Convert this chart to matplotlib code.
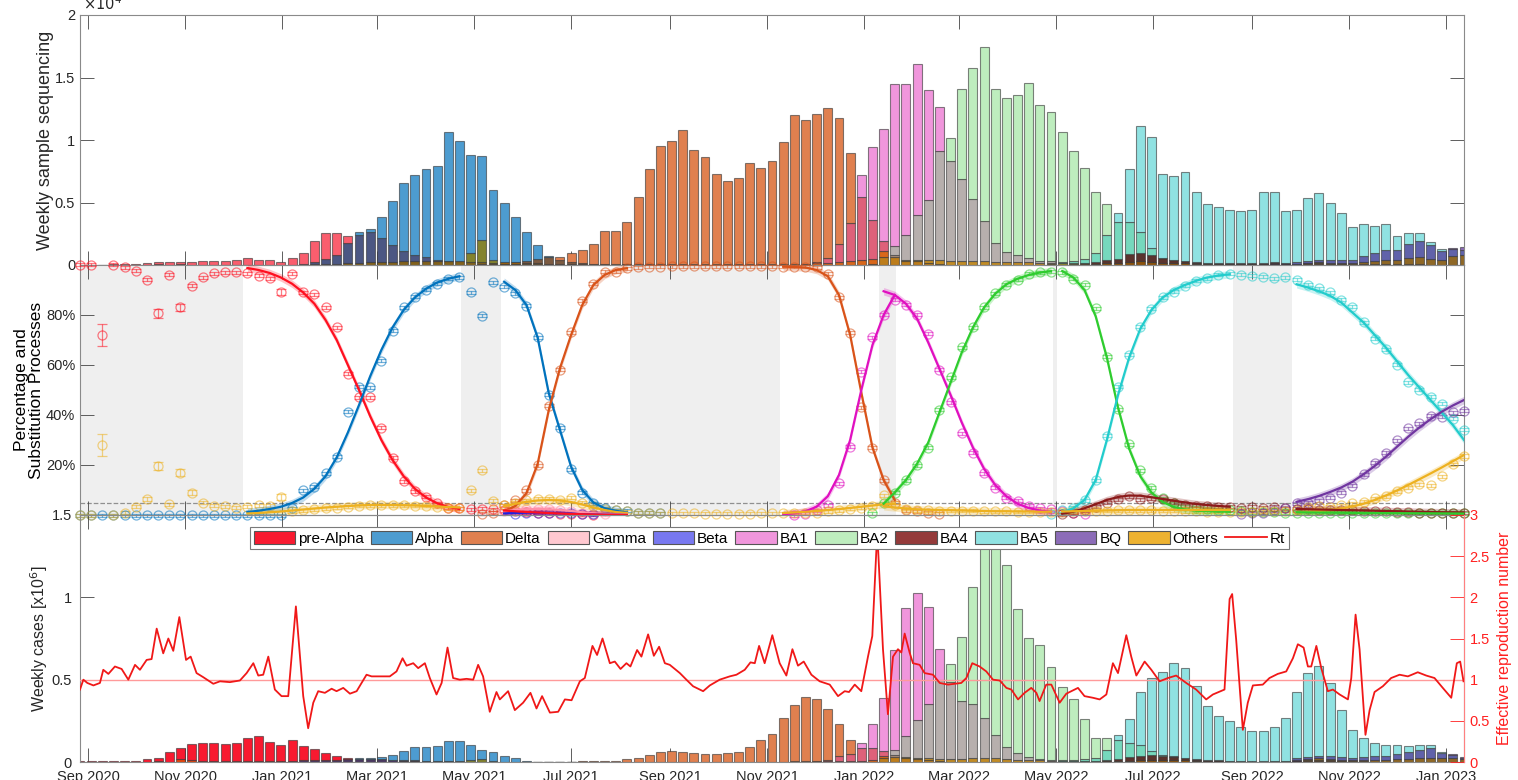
import numpy as np
import pandas as pd
import matplotlib
matplotlib.use("Agg")
import matplotlib.pyplot as plt
import matplotlib.dates as mdates
from matplotlib.colors import to_rgb
from matplotlib.patches import Patch
from matplotlib.lines import Line2D
from datetime import datetime

plt.rcParams["font.family"] = ["Liberation Sans", "DejaVu Sans"]

# ---------------------------------------------------------------- data
weeks = pd.date_range("2020-08-27", periods=125, freq="7D")

# weekly sequenced samples (x1e4) and weekly cases (x1e6)
seq_total = [0.003, 0.003, 0.004, 0.006, 0.008, 0.012, 0.015, 0.026, 0.023, 0.033,
             0.03, 0.03, 0.031, 0.036, 0.041, 0.061, 0.045, 0.042, 0.03, 0.055,
             0.104, 0.215, 0.305, 0.337, 0.417, 0.507, 0.569, 0.627, 0.7, 0.795,
             0.828, 0.853, 0.86, 1.124, 1.044, 0.989, 1.098, 0.642, 0.542, 0.436,
             0.312, 0.225, 0.15, 0.105, 0.127, 0.14, 0.179, 0.283, 0.283, 0.352,
             0.551, 0.778, 0.959, 0.994, 1.088, 0.926, 0.865, 0.733, 0.674, 0.701,
             0.817, 0.778, 0.841, 0.994, 1.209, 1.168, 1.219, 1.306, 1.348, 1.229,
             1.257, 1.33, 1.356, 1.68, 1.724, 2.006, 1.934, 2.174, 1.853, 2.101,
             2.105, 2.101, 1.584, 1.449, 1.447, 1.507, 1.32, 1.255, 1.094, 0.969,
             0.84, 0.703, 0.766, 0.805, 1.203, 1.481, 1.246, 0.837, 0.801, 0.816,
             0.623, 0.512, 0.486, 0.456, 0.453, 0.46, 0.616, 0.62, 0.458, 0.468,
             0.586, 0.632, 0.561, 0.48, 0.369, 0.426, 0.443, 0.495, 0.392, 0.489,
             0.518, 0.395, 0.282, 0.339, 0.353]
case_total = [0.005, 0.004, 0.005, 0.006, 0.006, 0.008, 0.019, 0.032, 0.066, 0.1,
              0.117, 0.119, 0.117, 0.114, 0.116, 0.149, 0.167, 0.13, 0.113, 0.139,
              0.109, 0.087, 0.069, 0.051, 0.039, 0.043, 0.043, 0.045, 0.058, 0.083,
              0.102, 0.099, 0.107, 0.136, 0.137, 0.116, 0.092, 0.063, 0.042, 0.025,
              0.01, 0.004, 0.004, 0.004, 0.004, 0.005, 0.006, 0.008, 0.008, 0.016,
              0.026, 0.043, 0.059, 0.07, 0.063, 0.057, 0.049, 0.049, 0.053, 0.059,
              0.094, 0.135, 0.171, 0.267, 0.348, 0.397, 0.385, 0.332, 0.266, 0.186,
              0.197, 0.325, 0.484, 0.79, 1.111, 1.28, 1.302, 1.179, 1.082, 1.13,
              1.413, 1.6, 1.5, 1.3, 0.986, 0.779, 0.732, 0.595, 0.467, 0.406,
              0.284, 0.179, 0.234, 0.316, 0.405, 0.567, 0.621, 0.626, 0.675, 0.621,
              0.493, 0.359, 0.291, 0.258, 0.224, 0.197, 0.199, 0.227, 0.279, 0.454,
              0.585, 0.643, 0.542, 0.367, 0.233, 0.192, 0.161, 0.155, 0.172, 0.183,
              0.206, 0.214, 0.142, 0.115, 0.077]

variants = ["pre-Alpha", "Alpha", "Delta", "Gamma", "Beta", "BA1", "BA2", "BA4", "BA5", "BQ", "Others"]

# weekly share of each variant (%), starting at week index share_start[v]
share_start = {"pre-Alpha": 0, "Alpha": 0, "Delta": 36, "Gamma": 38, "Beta": 39, "BA1": 64,
               "BA2": 71, "BA4": 88, "BA5": 87, "BQ": 104, "Others": 0}
share_pre_alpha = [100, 100, 72, 100, 99, 97.6, 94, 80.7, 96, 83, 91.7, 95, 96.7, 97, 97, 96.7,
                   95.6, 94.7, 89.3, 96.4, 89, 88.3, 83, 75, 56.4, 47, 47, 35, 23, 13.6, 9.6, 7.3,
                   4.7, 3, 2.7, 2.3, 2.5, 2.4, 2, 1.5, 1.2, 1, 0.8, 0.6, 0.5, 0.3, 0.2]
share_alpha = [0, 0, 0, 0, 0, 0, 0, 0, 0, 0, 0, 0, 0, 0, 0, 0, 0, 0, 0,
               2.7, 10, 11.3, 16.7, 23.3, 41.3, 51.3, 51, 61.7, 73.6, 83, 87.3, 90, 92.4, 94.4,
               95, 89, 79.7, 93, 91.3, 88.7, 83.7, 71, 48, 35, 18.4, 9, 4.7, 2.7, 2, 1.7, 1, 1, 0.8]
share_delta = [0.5, 1, 4, 6, 10, 20, 43.7, 58, 73, 85.7, 92.4, 97.3, 97.3, 98.7,
               99, 99.2, 99.3, 99.4, 99.5, 99.4, 99.5, 99.5, 99.4, 99.5, 99.5, 99.4, 99.4, 99.3,
               99.3, 99.2, 99,
               96.4, 87, 72.8, 43, 27, 14, 5, 2, 1.5, 1, 0.5]
share_gamma = [1.5, 2, 2.5, 2.5, 2.5, 2, 1.5, 1, 0.5, 0.3]
share_beta = [0.5, 0.8, 1, 1, 1, 0.8, 0.5, 0.3]
share_ba1 = [0, 0.5, 2, 4, 12.7, 27.3, 57.3, 71, 80, 86, 84, 80, 72.4, 58, 45, 32.7, 25, 16.7,
             11, 7, 5.7, 3.7, 2.7, 2.3, 1.5, 1, 0.5]
share_ba2 = [0.8, 4.7, 9, 14, 20, 27, 42, 55, 67, 75, 83, 88.7, 92, 94, 96.4, 97, 97.3, 97,
             94.4, 92, 82.7, 63.3, 42.3, 28.3, 18, 11, 6.7, 4.7, 3.5, 3, 2.5, 2, 2, 1.5,
             1.2, 1.2, 1.1, 1, 1, 1, 1, 1, 1, 0.9, 0.9, 0.8, 0.8, 0.8, 0.8, 0.7, 0.7, 0.7, 0.7, 0.7]
share_ba4 = [0.3, 1, 2, 3.3, 5, 6.4, 7.6, 6.4, 6.7, 6.3, 5, 4, 3.7, 3.5, 3.3, 3.3, 3, 3.3, 3,
             3.3, 2.7, 2.5, 2.3, 2, 2, 2, 2, 1.8, 1.5, 1.5, 1.3, 1.2, 1, 1, 1, 1, 1]
share_ba5 = [0.5, 2, 3, 6, 14, 31.7, 51.3, 64, 75.3, 82.4, 87, 89.3, 91.6, 93.7, 94.7, 96, 96.4,
             96, 95.6, 95.3, 94.7, 95, 94, 92, 90.7, 89, 86, 83.3, 77, 70.4, 66.3, 60, 53, 50,
             47.3, 44.4, 38.4, 34]
share_bq = [0.5, 0.8, 1, 2, 3, 4.7, 5, 6, 7, 9, 11.7, 16.3, 21, 25, 30, 34.7, 36.7, 39.7, 39.3,
            41, 41.7]
share_others = [0, 0, 28, 0, 1, 3.3, 6.3, 19.7, 4.3, 17, 9, 5, 3.7, 3.5, 3, 3.3, 4, 3.7, 7.3, 1.5,
                2, 2.3, 2.7, 3, 3.3, 3.7, 4, 4, 4, 4, 3.7, 3.7, 3.3, 2.7, 2.7, 10, 18, 5.7, 4, 5,
                6, 6.5, 6.5, 6, 7, 5, 3.5, 2.5, 2, 1.5, 1, 1, 0.8, 0.8, 0.7, 0.7, 0.6, 0.6, 0.6, 0.6,
                0.6, 0.7, 0.7, 0.8, 0.9, 1, 1, 1.5, 2, 2.5, 3, 3.5, 8, 4, 2.5, 2, 2, 1.8, 1.8, 1.7,
                1.7, 1.6, 1.5, 1.5, 1.4, 1.4, 1.3, 1.3, 1.4, 1.5, 1.6, 1.7, 1.8, 1.9, 2, 2, 2, 1.8,
                1.8, 1.6, 1.5, 1.4, 1.3, 1.2, 1.2, 1.3, 1.5, 1.6, 1.8, 2, 3.3, 3.7, 3.3, 4, 4.7, 5.3,
                6.7, 7.6, 9.6, 11, 12.3, 12, 15.6, 20.3, 23.6]

# visibly large error bars (% points); all other points use err_default
err_default = 0.6
err_large = {("pre-Alpha", 2): 4.5, ("Others", 2): 4.5, ("pre-Alpha", 7): 1.8, ("Others", 7): 1.7,
             ("pre-Alpha", 9): 1.5, ("Others", 9): 1.5, ("Others", 10): 1.0, ("Others", 6): 0.8,
             ("pre-Alpha", 18): 1.2, ("Others", 18): 1.2}

# fitted substitution processes: (variant, first week index, fitted share %)
fit_curves = [
    ("pre-Alpha", 15, [98.8, 98, 96.8, 95, 92.5, 89, 84.5, 78, 70, 60, 50, 39.5, 30, 22, 15.5,
                       10.5, 7, 4.7, 3.2, 2.4]),
    ("Alpha", 15, [1.2, 1.7, 2.4, 3.3, 4.8, 7, 10.5, 15.5, 23, 33, 44, 55.5, 66, 75, 82, 87, 90.5,
                   93, 94.5, 95.5]),
    ("Others", 15, [0.6, 0.8, 1.1, 1.4, 1.8, 2.2, 2.6, 3, 3.3, 3.6, 3.8, 4, 4, 4, 3.9, 3.8, 3.6,
                    3.4, 3.2, 3]),
    ("Alpha", 38, [93.3, 90, 84, 71, 48.7, 34, 19.3, 10, 5, 2.7, 1.7, 1]),
    ("Delta", 38, [1.5, 3.6, 8.7, 20.4, 42, 58.7, 72, 84, 92, 96, 98, 98.7]),
    ("Others", 38, [3.5, 4.5, 5.3, 5.8, 6, 5.8, 5.2, 4.2, 3, 2, 1.2, 0.8]),
    ("Gamma", 38, [1.5, 2, 2.3, 2.4, 2.3, 2, 1.6, 1.1, 0.7, 0.4, 0.2, 0.1]),
    ("Beta", 38, [0.6, 0.8, 0.9, 0.9, 0.8, 0.7, 0.5, 0.3, 0.2, 0.1, 0.05, 0]),
    ("pre-Alpha", 38, [1.8, 1.5, 1.2, 1, 0.8, 0.6, 0.4, 0.3, 0.2, 0.1, 0.05, 0]),
    ("Delta", 63, [99.3, 99.2, 99, 98, 95.5, 88, 72, 49, 27, 14, 6]),
    ("BA1", 63, [0.3, 0.7, 1.5, 3.3, 7.5, 16, 30, 50, 68, 80, 88]),
    ("Others", 63, [0.8, 1, 1.3, 1.6, 2, 2.4, 2.8, 3.3, 3.8, 4.3, 4.6]),
    ("BA1", 72, [89.5, 88, 84.5, 78.5, 69, 58.5, 48, 37, 27, 18.5, 12, 7.5, 4.5, 2.8, 1.8, 1.2]),
    ("BA2", 72, [4.5, 9, 14, 20.5, 29, 41, 53, 65, 75, 83, 88.5, 92.3, 94.5, 96, 97, 97.5]),
    ("Others", 72, [3.5, 3, 2.6, 2.3, 2.1, 2, 1.9, 1.8, 1.7, 1.6, 1.5, 1.5, 1.4, 1.4, 1.3, 1.3]),
    ("BA2", 88, [97.6, 95, 90, 79.5, 63, 43, 26.5, 15.5, 9, 5.2, 3.2, 2.2, 1.7, 1.5, 1.4, 1.3]),
    ("BA5", 88, [1, 2.7, 6, 14, 30, 48, 63, 74.5, 82, 87, 90, 92, 93.7, 95, 95.8, 96.3]),
    ("BA4", 88, [0.5, 1.3, 2.7, 4.3, 6, 7.2, 7.8, 7.7, 7.1, 6.4, 5.7, 5, 4.4, 4, 3.6, 3.3]),
    ("Others", 88, [1.4, 1.5, 1.6, 1.7, 1.8, 1.9, 2, 2, 2, 2, 2, 2, 2, 2, 2, 2]),
    ("BA5", 109, [92.3, 91, 89.5, 87.7, 85, 81, 77, 72, 67, 61.5, 56, 51, 46, 41, 36, 30]),
    ("BQ", 109, [5.3, 6.3, 7.6, 9.2, 11, 13.3, 16.3, 19.6, 23.3, 27.3, 31.3, 35, 38.3, 41.3, 43.8,
                 46]),
    ("Others", 109, [1, 1.3, 1.6, 2, 2.6, 3.4, 4.5, 6, 7.8, 9.8, 12, 14.3, 16.6, 19, 21.5, 24]),
    ("BA4", 109, [2.4, 2.3, 2.2, 2.1, 2, 1.9, 1.8, 1.7, 1.6, 1.5, 1.4, 1.3, 1.2, 1.1, 1.05, 1]),
    ("BA2", 109, [1.1, 1.05, 1, 0.95, 0.9, 0.85, 0.8, 0.78, 0.75, 0.72, 0.7, 0.68, 0.66, 0.64,
                  0.62, 0.6]),
]

# periods without a fitted substitution process
grey_spans = [("2020-08-27", "2020-12-07"), ("2021-04-23", "2021-05-18"),
              ("2021-08-07", "2021-11-09"), ("2022-01-10", "2022-01-21"),
              ("2022-04-29", "2022-05-02"), ("2022-08-20", "2022-09-26")]

# effective reproduction number, days since 2020-08-27
rt_days = [0, 2.1, 4.6, 8.4, 12.5, 14.6, 17.8, 21.9, 26.1, 30.3, 34.5, 37.6, 41.8, 44.9, 48.1,
           52.2, 55.4, 58.5, 62.3, 66.5, 69.4, 73.1, 77.3, 83.6, 87.8, 94, 100.3, 104.5, 108.7,
           111.8, 114.9, 118.1, 122.2, 126.4, 130.6, 135.4, 140, 143.1, 146.3, 149.4, 153.6,
           157.8, 160.9, 165.1, 169.3, 173.5, 179.7, 182.9, 186, 194.3, 198.5, 202.3, 204.8, 209,
           212.1, 216.3, 219.4, 223.6, 226.8, 230.5, 234, 238.2, 242.4, 246.6, 249.7, 252.8, 257,
           261.2, 263.3, 268.5, 272.7, 277.9, 282.5, 286.3, 289.8, 294.7, 299.9, 304.1, 308.3,
           313.5, 316.6, 321.4, 324.3, 327.7, 332.3, 335.4, 339, 342.7, 345.2, 349.4, 352.1,
           356.3, 359.9, 363.2, 366.8, 369.9, 376.2, 380.3, 384.5, 390.8, 395, 401.2, 407.5,
           411.7, 416.9, 420.5, 423.2, 425.9, 429.4, 434.2, 438.8, 443, 446.8, 450.3, 453.9,
           458.7, 463.9, 470.2, 475.4, 479.6, 482.3, 485.9, 490, 494.2, 496.9, 500, 503.6, 506.7,
           509.9, 513, 515.1, 517.2, 520.3, 522.4, 526.6, 529.7, 535, 539.2, 544.4, 548.6, 552.7,
           555.9, 559.6, 564.2, 568.4, 572.6, 576.8, 581, 584.1, 588.3, 592.4, 596.6, 599.8,
           601.8, 606, 609.2, 614.4, 618.6, 625.9, 630, 635.3, 639.5, 643.7, 647.8, 651, 656.2,
           659.3, 662.5, 667.7, 671.9, 677.1, 682.3, 687.5, 693.8, 700, 706.3, 710.5, 717.8, 721,
           722.6, 725.1, 729.3, 732.4, 735.6, 741.8, 746, 751.2, 756.5, 760.7, 763.8, 767.4,
           770.1, 772.2, 775.4, 778.5, 782.6, 785.8, 790, 795.2, 797.3, 800, 802.5, 806.2, 808.8,
           811.9, 817.1, 822.3, 827.6, 832.8, 839, 844.3, 849.5, 854.7, 860, 863.5, 865.6, 867.7]
rt_values = [0.88, 1.0, 0.96, 0.93, 0.96, 1.12, 1.07, 1.16, 1.13, 1.0, 1.18, 1.12, 1.24, 1.25,
             1.62, 1.32, 1.5, 1.35, 1.76, 1.24, 1.28, 1.08, 1.03, 0.95, 0.98, 0.97, 0.99, 1.08,
             1.2, 1.05, 1.06, 1.28, 0.88, 0.8, 0.8, 1.89, 0.8, 0.41, 0.72, 0.86, 0.84, 0.89, 0.86,
             0.9, 0.83, 0.86, 1.06, 1.04, 1.04, 1.04, 1.1, 1.26, 1.17, 1.2, 1.14, 1.2, 1.02, 0.82,
             0.96, 1.39, 1.02, 1.0, 1.01, 1.0, 1.18, 1.04, 0.61, 0.85, 0.76, 0.86, 0.63, 0.72,
             0.84, 0.65, 0.8, 0.6, 0.61, 0.76, 0.75, 0.98, 1.02, 1.41, 1.3, 1.5, 1.2, 1.22, 1.13,
             1.2, 1.16, 1.36, 1.28, 1.55, 1.29, 1.4, 1.2, 1.18, 1.08, 1.0, 0.92, 0.86, 0.93, 1.0,
             1.04, 1.06, 1.12, 1.21, 1.2, 1.41, 1.2, 1.54, 1.2, 1.05, 1.37, 1.17, 1.22, 1.06,
             0.98, 0.94, 0.8, 0.86, 0.85, 0.94, 0.86, 1.28, 1.53, 2.8, 1.37, 0.58, 1.28, 1.37,
             1.33, 1.56, 1.33, 1.2, 1.18, 1.08, 1.06, 0.96, 0.94, 0.95, 0.96, 1.02, 1.2, 1.16,
             1.1, 1.0, 0.99, 0.9, 0.88, 0.76, 0.84, 0.9, 0.84, 0.74, 0.94, 0.94, 0.72, 0.83, 0.9,
             0.8, 0.78, 0.76, 0.82, 1.2, 1.08, 1.54, 1.28, 1.05, 1.22, 1.12, 0.98, 1.02, 1.05,
             0.96, 0.88, 0.76, 0.82, 0.88, 1.98, 2.04, 1.49, 0.39, 0.72, 0.93, 0.94, 1.02, 1.07,
             1.1, 1.26, 1.43, 1.39, 1.16, 1.16, 1.41, 1.14, 0.86, 0.88, 0.82, 0.76, 1.02, 1.79,
             1.37, 0.33, 0.63, 0.85, 0.92, 1.02, 1.06, 1.04, 1.09, 1.05, 1.02, 0.9, 0.78, 1.2,
             1.22, 0.98]

# ---------------------------------------------------------------- styling
# bar colours as they appear on white (semi-transparent patches)
disp_top = {"pre-Alpha": "#fa5e6e", "Alpha": "#4d9cd0", "Delta": "#e0804f", "Gamma": "#ffc8d0",
            "Beta": "#7878f0", "BA1": "#f096dc", "BA2": "#beedbe", "BA4": "#943a3a",
            "BA5": "#90e2e2", "BQ": "#8c6cb8", "Others": "#edb231"}
disp_bottom = dict(disp_top, **{"pre-Alpha": "#f81a30"})
line_colors = {"pre-Alpha": "#ff1020", "Alpha": "#0072bd", "Delta": "#d95319", "Gamma": "#ff90a8",
               "Beta": "#2020e0", "BA1": "#e010c0", "BA2": "#2ecc2e", "BA4": "#8b1a1a",
               "BA5": "#22cccc", "BQ": "#7035a0", "Others": "#edb120"}
bar_order = ["pre-Alpha", "Alpha", "Gamma", "Beta", "Delta", "BA1", "BA2", "BA5", "BA4", "BQ",
             "Others"]
BAR_ALPHA = 0.75
TXT = "#262626"
SPINE = "#8a8a8a"

n_weeks = len(weeks)
wk = mdates.date2num(weeks.to_pydatetime())
shares = {"pre-Alpha": share_pre_alpha, "Alpha": share_alpha, "Delta": share_delta,
          "Gamma": share_gamma, "Beta": share_beta, "BA1": share_ba1, "BA2": share_ba2,
          "BA4": share_ba4, "BA5": share_ba5, "BQ": share_bq, "Others": share_others}
share_arr = {}
for v in variants:
    a = np.full(n_weeks, np.nan)
    vals = shares[v]
    a[share_start[v]:share_start[v] + len(vals)] = vals
    share_arr[v] = a

x0 = mdates.date2num(datetime(2020, 8, 27))
x1 = mdates.date2num(datetime(2023, 1, 12))


def layer(below, colour):
    """Overlapping transparent bars: mix of normal-over and multiply blending."""
    top = np.array(to_rgb(colour))
    base = np.clip((top - (1 - BAR_ALPHA)) / BAR_ALPHA, 0, 1)
    over = BAR_ALPHA * base + (1 - BAR_ALPHA) * below
    return 0.5 * (over + below * top)


def draw_bars(ax, totals, disp):
    tot = np.asarray(totals)
    xs, bots, hts, cols = [], [], [], []
    for i in range(n_weeks):
        counts = [(v, tot[i] * share_arr[v][i] / 100) for v in bar_order
                  if share_arr[v][i] > 0]
        lo = 0.0
        for hi in sorted(set(c for _, c in counts)):
            cover = [v for v, c in counts if c >= hi]
            col = np.array(to_rgb(disp[cover[0]]))
            for v in cover[1:]:
                col = layer(col, disp[v])
            xs.append(wk[i])
            bots.append(lo)
            hts.append(hi - lo)
            cols.append(col)
            lo = hi
    ax.bar(xs, hts, bottom=bots, width=5.6, color=cols, edgecolor=(0.2, 0.2, 0.2, 0.6),
           linewidth=0.8, zorder=2)


fig = plt.figure(figsize=(15.18, 7.8), dpi=100)
L, W = 80 / 1518, 1384 / 1518
ax1 = fig.add_axes([L, 515 / 780, W, 250 / 780])
ax2 = fig.add_axes([L, 265 / 780, W, 250 / 780])
ax3 = fig.add_axes([L, 18 / 780, W, 247 / 780])
for ax in (ax1, ax2, ax3):
    ax.patch.set_visible(False)
    ax.set_xlim(x0, x1)
    ax.xaxis.set_major_locator(mdates.MonthLocator(bymonth=[1, 3, 5, 7, 9, 11]))
    ax.xaxis.set_major_formatter(mdates.DateFormatter("%b %Y"))
    ax.tick_params(direction="in", length=10, width=0.6, color="#444444", labelsize=10.5,
                   labelcolor=TXT, top=True, right=True)
    for s in ax.spines.values():
        s.set_color(SPINE)
        s.set_linewidth(0.8)
ax1.tick_params(labelbottom=False)
ax2.tick_params(labelbottom=False)
ax3.tick_params(right=False, pad=6)

# ---------------------------------------------------------------- top: sequencing
draw_bars(ax1, seq_total, disp_top)
ax1.set_ylim(0, 2)
ax1.set_yticks([0, 0.5, 1, 1.5, 2])
ax1.set_yticklabels(["0", "0.5", "1", "1.5", "2"])
ax1.set_ylabel("Weekly sample sequencing", fontsize=13, color=TXT)
ax1.yaxis.set_label_coords(-0.0188, 0.5)
ax1.text(0.002, 1.02, r"$\times10^{4}$", transform=ax1.transAxes, fontsize=10.5, color=TXT,
         ha="left", va="baseline")

# ---------------------------------------------------------------- middle: shares
for a, b in grey_spans:
    ax2.axvspan(mdates.date2num(pd.Timestamp(a).to_pydatetime()),
                mdates.date2num(pd.Timestamp(b).to_pydatetime()), color="#efefef", lw=0, zorder=0)
ax2.axhline(0.05, ls="--", color="#909090", lw=0.9, zorder=1)

for v in variants:
    s = share_arr[v]
    idx = np.where(~np.isnan(s))[0]
    err = np.array([err_large.get((v, i), err_default) for i in idx])
    eb = ax2.errorbar(wk[idx], s[idx] / 100, yerr=err / 100, fmt="o", ms=6.5, mfc="none",
                      mec=line_colors[v], ecolor=line_colors[v], mew=0.9, elinewidth=0.9,
                      capsize=3.5, capthick=0.9, alpha=0.55, zorder=3)
    eb[0].set_clip_on(False)
    for art in list(eb[1]) + list(eb[2]):
        art.set_clip_on(False)

for v, start, vals in fit_curves:
    xs = wk[start:start + len(vals)]
    ys = np.array(vals) / 100
    ax2.fill_between(xs, ys - 0.015, ys + 0.015, color=line_colors[v], alpha=0.25, lw=0, zorder=4)
    ax2.plot(xs, ys, color=line_colors[v], lw=1.6, zorder=5)

ax2.set_ylim(0, 1)
ax2.set_yticks([0.2, 0.4, 0.6, 0.8])
ax2.set_yticklabels(["20%", "40%", "60%", "80%"])
ax2.set_ylabel("Percentage and\nSubstitution Processes", fontsize=12.5, color="black",
               linespacing=1.0)
ax2.yaxis.set_label_coords(-0.0262, 0.5)

# ---------------------------------------------------------------- bottom: cases + Rt
draw_bars(ax3, case_total, disp_bottom)
ax3.set_ylim(0, 1.5)
ax3.set_yticks([0, 0.5, 1, 1.5])
ax3.set_yticklabels(["0", "0.5", "1", "1.5"])
ax3.set_ylabel(r"Weekly cases [x10$^6$]", fontsize=11.5, color=TXT)
ax3.yaxis.set_label_coords(-0.0217, 0.5)

ax3r = ax3.twinx()
ax3r.set_xlim(x0, x1)
ax3r.plot(x0 + np.array(rt_days), rt_values, color="#f01818", lw=1.3, zorder=3)
ax3r.axhline(1, color="#ff9a9a", lw=1.0, zorder=2)
ax3r.set_ylim(0, 3)
ax3r.set_yticks([0, 0.5, 1, 1.5, 2, 2.5, 3])
ax3r.set_yticklabels(["0", "0.5", "1", "1.5", "2", "2.5", "3"])
ax3r.tick_params(axis="y", direction="in", length=10, width=0.6, colors="#ff2020",
                 labelsize=10.5, pad=4)
for s in ax3r.spines.values():
    s.set_visible(False)
ax3r.spines["right"].set_visible(True)
ax3r.spines["right"].set_color("#ff8080")
ax3r.set_ylabel("Effective reproduction number", fontsize=11.5, color="#ff2020")
ax3r.yaxis.set_label_coords(1.0238, 0.5)

handles = []
for v in variants:
    handles.append(Patch(facecolor=disp_bottom[v], edgecolor="#555555", linewidth=0.8, label=v))
handles.append(Line2D([], [], color="#f01818", lw=1.3, label="Rt"))
leg = ax3r.legend(handles=handles, loc="upper left", bbox_to_anchor=((250 - 80) / 1384, 0.951),
                  ncol=12, fontsize=11, frameon=True, fancybox=False, framealpha=1,
                  edgecolor="#7a7a7a", borderpad=0.25, borderaxespad=0, handlelength=2.7,
                  handleheight=0.9, handletextpad=0.2, columnspacing=0.45)
leg.get_frame().set_linewidth(0.8)
leg.set_zorder(10)

fig.savefig("out.png", dpi=100)
